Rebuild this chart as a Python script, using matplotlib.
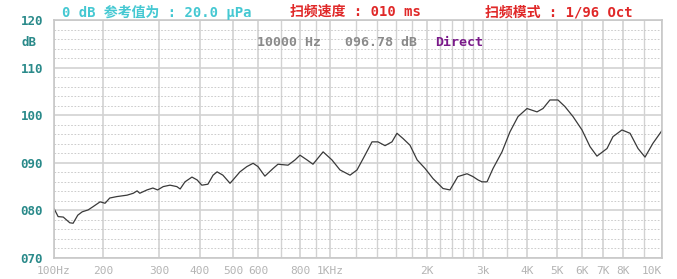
import numpy as np
import matplotlib
matplotlib.use("Agg")
import matplotlib.pyplot as plt

# frequency response (Hz, dB)
freq = [100, 106, 114, 125, 131, 140, 149, 162, 174, 192, 203, 210, 221, 238, 249, 256,
        261, 275, 287, 297, 309, 324, 340, 348, 360, 378, 392, 405, 422, 437, 449, 467,
        490, 500, 526, 553, 579, 600, 629, 665, 688, 737, 773, 800, 843, 881, 950, 1014,
        1074, 1154, 1213, 1284, 1350, 1409, 1482, 1557, 1614, 1685, 1771, 1864, 1973, 2088,
        2246, 2362, 2500, 2672, 2790, 2894, 2978, 3080, 3203, 3397, 3578, 3771, 4000, 4309,
        4505, 4744, 5036, 5300, 5621, 6000, 6363, 6696, 7190, 7483, 7945, 8329, 8719, 9074,
        9495, 10000]
level = [80.4, 78.7, 78.6, 77.4, 77.3, 79.0, 79.7, 80.1, 80.8, 81.8, 81.5, 82.6, 82.9, 83.2,
         83.6, 84.1, 83.6, 84.3, 84.7, 84.3, 85.0, 85.3, 85.0, 84.5, 86.0, 87.0, 86.4, 85.3,
         85.5, 87.4, 88.1, 87.4, 85.7, 86.4, 88.1, 89.2, 89.9, 89.2, 87.2, 88.8, 89.7, 89.5,
         90.6, 91.6, 90.6, 89.7, 92.3, 90.6, 88.5, 87.4, 88.5, 91.6, 94.4, 94.4, 93.6, 94.4,
         96.2, 95.1, 93.7, 90.6, 88.8, 86.7, 84.6, 84.3, 87.1, 87.7, 87.1, 86.4, 86.0, 86.0,
         88.8, 92.3, 96.5, 99.7, 101.4, 100.7, 101.4, 103.2, 103.2, 101.8, 99.7, 96.9, 93.4,
         91.4, 93.0, 95.5, 96.9, 96.2, 93.0, 91.2, 94.1, 96.78]

tick_freqs = [100, 200, 300, 400, 500, 600, 800, 1000, 2000, 3000, 4000, 5000, 6000,
              7000, 8000, 10000]
tick_labels = ["100Hz", "200", "300", "400", "500", "600", "800", "1KHz", "2K", "3k",
               "4K", "5K", "6K", "7K", "8K", "10K"]
extra_grid = [700, 900, 1200, 1400, 1600, 1800, 2200, 2400, 2600, 2800, 3500, 9000]
y_ticks = [70, 80, 90, 100, 110, 120]
y_labels = ["070", "080", "090", "100", "110", "120"]

# the analyser's frequency axis is not a plain log axis: warp it piecewise
axis_pos = [54, 103, 159, 200, 233, 258, 300, 330, 427, 483, 527, 557, 582, 603, 623, 662]
logf = np.log10(tick_freqs)
logf_ext = np.concatenate([[1.0], logf, [5.0]])
pos_ext = np.concatenate([[-230.0], axis_pos, [1000.0]])


def fwd(f):
    return np.interp(np.log10(np.clip(f, 1e-6, None)), logf_ext, pos_ext)


def inv(p):
    return 10 ** np.interp(p, pos_ext, logf_ext)


W, H = 677, 279
fig = plt.figure(figsize=(W / 100, H / 100), dpi=100)
ax = fig.add_axes([54 / W, 1 - 258 / H, (662 - 54) / W, (258 - 20) / H])
ax.set_xscale("function", functions=(fwd, inv))
ax.set_xlim(100, 10000)
ax.set_ylim(70, 120)

ax.set_xticks(tick_freqs)
ax.set_xticklabels(tick_labels)
ax.set_xticks(extra_grid, minor=True)
ax.set_yticks(y_ticks)
ax.set_yticklabels(y_labels)
ax.set_yticks(np.arange(70, 121, 2), minor=True)

ax.grid(which="major", color="#d2d2d2", lw=1.2)
ax.grid(which="minor", axis="x", color="#d2d2d2", lw=1.0)
ax.grid(which="minor", axis="y", color="#c4c4c4", lw=0.6, linestyle=(0, (2, 2)))
ax.set_axisbelow(True)
for s in ax.spines.values():
    s.set_color("#c8c8c8")
    s.set_linewidth(1.2)

ax.tick_params(which="both", length=0)
ax.tick_params(axis="x", pad=6, labelsize=8, labelcolor="#b4b4b4")
ax.tick_params(axis="y", pad=8, labelsize=9, labelcolor="#2a8a8a")
for t in ax.get_xticklabels():
    t.set_family("DejaVu Sans Mono")
for t in ax.get_yticklabels():
    t.set_family("DejaVu Sans Mono")
    t.set_fontweight("bold")
ax.get_xticklabels()[-1].set_ha("right")

ax.plot(freq, level, color="#3a3a3a", lw=0.9)

mono_cjk = ["DejaVu Sans Mono", "Noto Sans CJK SC"]
fig.text(22 / W, 1 - 43 / H, "dB", color="#2a8a8a", fontsize=9, fontweight="bold",
         family="DejaVu Sans Mono", ha="left", va="center")
fig.text(62 / W, 1 - 12 / H, "0 dB 参考值为 : 20.0 μPa", color="#45c8d2", fontsize=10,
         fontweight="bold", family=mono_cjk, ha="left", va="center")
fig.text(290 / W, 1 - 12 / H, "扫频速度 : 010 ms", color="#e02828", fontsize=10,
         fontweight="bold", family=mono_cjk, ha="left", va="center")
fig.text(485 / W, 1 - 12 / H, "扫频模式 : 1/96 Oct", color="#e02828", fontsize=10,
         fontweight="bold", family=mono_cjk, ha="left", va="center")

fig.text(257 / W, 1 - 42 / H, "10000 Hz", color="#8a8a8a", fontsize=9.5,
         fontweight="bold", family="DejaVu Sans Mono", ha="left", va="center")
fig.text(345 / W, 1 - 42 / H, "096.78 dB", color="#8a8a8a", fontsize=9.5,
         fontweight="bold", family="DejaVu Sans Mono", ha="left", va="center")
fig.text(435 / W, 1 - 42 / H, "Direct", color="#7a1a8a", fontsize=9.5,
         fontweight="bold", family="DejaVu Sans Mono", ha="left", va="center")

fig.savefig("out.png", dpi=100, facecolor="white")
